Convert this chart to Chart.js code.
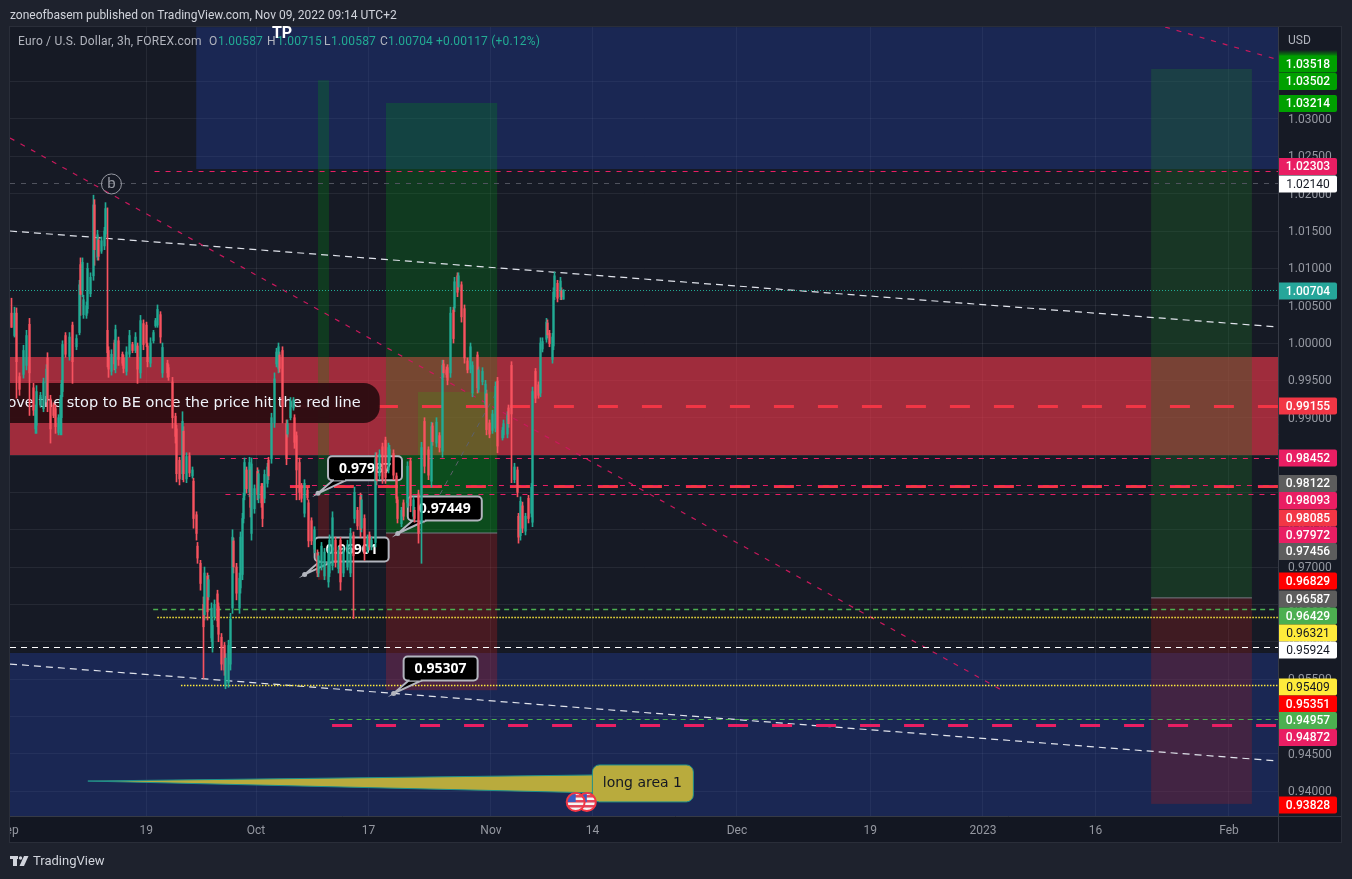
<!DOCTYPE html>
<html>
<head>
<meta charset="utf-8">
<title>EURUSD</title>
<script src="https://cdn.jsdelivr.net/npm/chart.js@4/dist/chart.umd.min.js"></script>
<style>
  html, body { margin: 0; padding: 0; background: #1e222d; overflow: hidden; }
  canvas { display: block; }
</style>
</head>
<body>
<canvas id="chart" width="1352" height="879"></canvas>
<script>
// Axis ticks
const timeBars = [-1, 98, 177, 258, 346, 419, 523, 619, 700, 781, 877];
const timeLabels = ['Sep', '19', 'Oct', '17', 'Nov', '14', 'Dec', '19', '2023', '16', 'Feb'];
const priceTicks = [0.94, 0.945, 0.95, 0.955, 0.96, 0.965, 0.97, 0.975, 0.98, 0.985, 0.99, 0.995, 1,
  1.005, 1.01, 1.015, 1.02, 1.025, 1.03, 1.035];

// Candles (3h bars)
const candleBar = [
  1,3,5,7,10,12,14,17,18,19,
  22,24,26,27,29,31,33,35,36,37,
  38,40,43,45,48,50,51,52,53,55,
  56,58,60,61,63,64,66,68,69,70,
  71,73,75,76,78,81,82,84,86,88,
  90,92,94,96,98,99,101,103,105,106,
  108,110,113,114,117,119,120,122,124,125,
  127,129,131,132,134,135,137,139,140,142,
  143,145,146,147,149,150,152,154,155,157,
  159,160,161,163,165,166,167,168,169,170,
  172,173,174,176,178,179,181,182,183,185,
  186,188,190,192,193,194,196,199,200,202,
  204,205,206,208,210,212,214,215,217,219,
  221,222,224,226,229,230,232,234,236,238,
  240,243,245,247,248,250,252,253,255,257,
  259,260,263,264,266,268,270,272,273,276,
  278,279,282,283,286,288,290,291,294,296,
  298,301,303,304,307,309,311,312,314,315,
  317,319,320,322,323,325,327,329,331,333,
  336,337,340,342,343,345,347,349,351,354,
  355,358,359,361,363,365,366,367,369,371,
  373,375,376,378,380,382,383,386,387,388,
  390,391,392,394,396,397,398];
const candleHigh = [
  1.0060,1.0048,1.0047,.9960,.9997,1.0017,1.0033,.9946,.9917,.9943,
  .9934,.9953,.9971,.9987,.9930,.9920,.9917,.9904,.9930,.9950,
  1.0003,1.0014,1.0014,1.0028,1.0011,1.0084,1.0114,1.0114,1.0064,1.0055,
  1.0107,1.0094,1.0198,1.0192,1.0151,1.0142,1.0142,1.0155,1.0188,1.0181,
  .9995,.9991,1.0004,1.0024,1.0008,.9988,.9984,.9995,1.0017,1.0001,
  1.0014,1.0000,1.0037,1.0031,1.0028,1.0000,1.0007,1.0017,1.0033,1.0051,
  1.0042,1.0000,.9977,.9971,.9954,.9906,.9890,.9847,.9908,.9888,
  .9853,.9853,.9834,.9819,.9774,.9733,.9709,.9660,.9700,.9692,
  .9689,.9652,.9629,.9656,.9669,.9652,.9611,.9599,.9584,.9602,
  .9638,.9750,.9739,.9705,.9692,.9747,.9772,.9799,.9846,.9834,
  .9847,.9834,.9846,.9810,.9833,.9830,.9812,.9812,.9830,.9839,
  .9847,.9906,.9960,.9993,1.0000,.9988,.9995,.9897,.9897,.9927,
  .9927,.9904,.9881,.9846,.9812,.9817,.9807,.9790,.9766,.9754,
  .9723,.9720,.9733,.9725,.9725,.9743,.9774,.9740,.9727,.9740,
  .9727,.9736,.9752,.9747,.9807,.9780,.9799,.9796,.9770,.9743,
  .9747,.9740,.9853,.9853,.9857,.9866,.9874,.9866,.9863,.9857,
  .9826,.9794,.9780,.9790,.9841,.9846,.9794,.9780,.9803,.9867,
  .9900,.9861,.9894,.9893,.9900,.9880,.9977,.9977,.9968,.9971,
  1.0048,1.0048,1.0088,1.0094,1.0094,1.0082,1.0051,.9980,1.0000,.9975,
  .9988,.9968,.9967,.9950,.9937,.9897,.9910,.9948,.9954,.9887,
  .9897,.9908,.9917,.9975,.9839,.9834,.9772,.9794,.9787,.9772,
  .9796,.9812,.9941,.9966,.9948,1.0007,1.0007,1.0033,1.0031,1.0017,
  1.0013,1.0074,1.0095,1.0084,1.0088,1.0074,1.00715];
const candleLow = [
  1.0021,1.0008,.9926,.9930,.9953,.9964,.9903,.9903,.9879,.9879,
  .9914,.9908,.9921,.9908,.9866,.9900,.9879,.9877,.9877,.9877,
  .9928,.9981,.9977,.9946,.9991,1.0011,1.0037,1.0062,1.0033,1.0033,
  1.0040,1.0062,1.0084,1.0104,1.0111,1.0111,1.0120,1.0125,1.0142,.9968,
  .9954,.9957,.9964,.9960,.9970,.9970,.9960,.9957,.9981,.9987,
  .9987,.9946,.9953,.9991,.9995,.9968,.9968,1.0000,1.0021,1.0021,
  1.0000,.9954,.9954,.9950,.9886,.9866,.9814,.9810,.9817,.9814,
  .9813,.9821,.9819,.9752,.9736,.9705,.9669,.9551,.9629,.9629,
  .9656,.9600,.9586,.9629,.9620,.9600,.9562,.9555,.9537,.9539,
  .9562,.9638,.9692,.9656,.9638,.9665,.9683,.9759,.9790,.9799,
  .9794,.9767,.9736,.9772,.9790,.9786,.9780,.9754,.9786,.9807,
  .9817,.9839,.9887,.9968,.9960,.9961,.9893,.9837,.9874,.9897,
  .9910,.9859,.9790,.9790,.9787,.9767,.9790,.9727,.9730,.9719,
  .9687,.9687,.9696,.9683,.9673,.9687,.9696,.9700,.9692,.9669,
  .9687,.9696,.9687,.9631,.9759,.9750,.9740,.9747,.9709,.9719,
  .9723,.9723,.9727,.9810,.9817,.9812,.9812,.9826,.9839,.9817,
  .9786,.9759,.9754,.9763,.9780,.9774,.9763,.9760,.9732,.9705,
  .9826,.9817,.9807,.9863,.9861,.9854,.9847,.9954,.9954,.9944,
  .9954,1.0000,1.0042,1.0062,1.0071,1.0028,.9973,.9960,.9960,.9928,
  .9933,.9934,.9944,.9914,.9877,.9873,.9879,.9881,.9853,.9870,
  .9873,.9873,.9887,.9813,.9813,.9794,.9732,.9736,.9746,.9743,
  .9759,.9767,.9754,.9920,.9926,.9928,.9988,1.0001,1.0007,.9995,
  .9973,.9991,1.0058,1.0055,1.0058,1.0058,1.00587];
const candleOpen = [
  1.0040,1.0010,1.0040,.9955,.9958,.9970,1.0025,.9940,.9885,.9890,
  .9917,.9912,.9925,.9980,.9925,.9917,.9912,.9880,.9885,.9900,
  .9935,1.0010,.9982,1.0024,.9995,1.0014,1.0105,1.0070,1.0038,1.0037,
  1.0046,1.0066,1.0090,1.0185,1.0115,1.0138,1.0123,1.0130,1.0146,1.0017,
  .9990,.9962,1.0000,.9966,1.0003,.9985,.9980,.9962,.9985,.9998,
  .9990,.9996,.9960,1.0026,1.0024,.9996,.9973,1.0003,1.0023,1.0024,
  1.0038,.9960,.9973,.9967,.9948,.9902,.9885,.9843,.9825,.9882,
  .9818,.9849,.9822,.9815,.9770,.9728,.9705,.9650,.9636,.9688,
  .9660,.9605,.9592,.9633,.9664,.9647,.9606,.9595,.9542,.9545,
  .9570,.9645,.9735,.9700,.9645,.9672,.9690,.9765,.9796,.9830,
  .9800,.9830,.9745,.9778,.9828,.9792,.9808,.9808,.9792,.9812,
  .9843,.9845,.9893,.9972,.9966,.9984,.9990,.9892,.9878,.9900,
  .9913,.9900,.9876,.9840,.9808,.9772,.9803,.9786,.9762,.9724,
  .9719,.9692,.9700,.9688,.9680,.9692,.9702,.9736,.9698,.9736,
  .9692,.9700,.9692,.9742,.9765,.9776,.9794,.9752,.9765,.9723,
  .9743,.9727,.9733,.9848,.9822,.9861,.9870,.9830,.9843,.9852,
  .9822,.9790,.9758,.9786,.9786,.9842,.9768,.9776,.9798,.9760,
  .9895,.9857,.9815,.9889,.9866,.9876,.9855,.9972,.9964,.9967,
  .9960,1.0044,1.0047,1.0090,1.0075,1.0078,1.0046,.9976,.9965,.9933,
  .9984,.9938,.9948,.9918,.9932,.9893,.9883,.9886,.9949,.9873,
  .9877,.9878,.9913,.9970,.9817,.9830,.9768,.9742,.9782,.9748,
  .9792,.9772,.9760,.9962,.9944,.9933,.9992,1.0005,1.0027,1.0013,
  .9978,.9996,1.0062,1.0080,1.0062,1.0070,1.00587];
const candleClose = [
  1.0021,1.0040,.9975,.9938,.9990,1.0010,.9960,.9910,.9910,.9935,
  .9930,.9948,.9965,.9925,.9885,.9903,.9888,.9900,.9925,.9945,
  .9998,.9985,1.0008,.9975,1.0006,1.0078,1.0065,1.0108,1.0058,1.0050,
  1.0100,1.0088,1.0185,1.0125,1.0145,1.0116,1.0137,1.0150,1.0180,.9987,
  .9965,.9985,.9972,1.0018,.9978,.9973,.9966,.9988,1.0010,.9990,
  1.0008,.9965,1.0030,.9998,1.0000,.9975,1.0000,1.0014,1.0030,1.0045,
  1.0008,.9994,.9960,.9955,.9900,.9875,.9825,.9818,.9895,.9825,
  .9848,.9826,.9830,.9765,.9745,.9712,.9678,.9620,.9692,.9640,
  .9683,.9645,.9622,.9650,.9628,.9610,.9570,.9562,.9578,.9595,
  .9630,.9740,.9700,.9665,.9685,.9740,.9765,.9792,.9840,.9805,
  .9840,.9780,.9838,.9805,.9797,.9825,.9786,.9765,.9824,.9834,
  .9822,.9900,.9952,.9988,.9995,.9966,.9915,.9845,.9892,.9922,
  .9924,.9867,.9830,.9800,.9792,.9812,.9793,.9735,.9735,.9750,
  .9692,.9715,.9728,.9720,.9718,.9736,.9766,.9706,.9722,.9680,
  .9722,.9730,.9745,.9715,.9800,.9755,.9750,.9790,.9718,.9738,
  .9727,.9736,.9845,.9816,.9851,.9818,.9820,.9860,.9858,.9823,
  .9792,.9765,.9776,.9768,.9835,.9782,.9790,.9765,.9745,.9860,
  .9835,.9823,.9888,.9868,.9894,.9860,.9970,.9960,.9958,.9950,
  1.0040,1.0006,1.0082,1.0068,1.0090,1.0035,.9980,.9964,.9995,.9970,
  .9940,.9964,.9962,.9945,.9884,.9878,.9905,.9942,.9862,.9883,
  .9892,.9903,.9892,.9905,.9834,.9800,.9740,.9788,.9752,.9768,
  .9765,.9807,.9935,.9926,.9930,1.0000,1.0002,1.0028,1.0011,.9999,
  1.0008,1.0068,1.0090,1.0060,1.0083,1.0062,1.00704];

// Horizontal levels drawn on the chart
const levelPrice = [1.02303, 1.0214, 1.00704, 0.99155, 0.98452, 0.98093, 0.98085, 0.97972, 0.96429, 0.96321, 0.95924, 0.95409, 0.94957, 0.94872];
const levelStartBar = [104, 0, 0, 201.4, 151, 201.4, 201.4, 155, 103, 106, 0, 123, 230, 231.7];
const levelStyle = ['pink', 'grey', 'last', 'thickRed', 'pink', 'pink', 'thickRed', 'pink', 'greenBold', 'yellow', 'white', 'yellow', 'green', 'thickPink'];

// Sloped trend lines and position entry lines: bar, price at both ends
const trendStartBar = [0, 831, 0, 0, 294, 821, 270.5];
const trendEndBar = [716, 913, 913, 913, 350, 893.5, 350.5];
const trendStartPrice = [1.02746, 1.04232, 1.0150, 0.95701, 0.97456, 0.96587, 0.97456];
const trendEndPrice = [0.95326, 1.0379, 1.00214, 0.94402, 0.99344, 0.96587, 0.97456];
const trendStyle = ['trendPink', 'trendPink', 'trendWhite', 'trendWhite', 'trendGrey', 'entry', 'entry'];

// Shaded zones, painted in this order
const zoneStartBar = [134, 0, 0, 221.6, 221.6, 270.5, 270.5, 270.5, 293.5, 821, 821];
const zoneEndBar = [913, 913, 913, 229.5, 229.5, 350.5, 350.5, 350.5, 350.5, 893.5, 893.5];
const zoneTop = [1.0423, 0.95849, 0.99813, 1.03518, 0.97972, 1.03214, 0.98500, 0.97456, 0.99344, 1.0367, 0.96587];
const zoneBottom = [1.0233, 0.9366, 0.98500, 0.97972, 0.96829, 0.97456, 0.97456, 0.95351, 0.98500, 0.96587, 0.93828];
const zoneColor = ['rgba(33,66,170,.35)', 'rgba(33,66,170,.35)', 'rgba(233,54,72,.65)',
  'rgba(0,150,20,.26)', 'rgba(200,30,30,.28)', 'rgba(0,150,20,.26)', 'rgba(0,150,20,.2)', 'rgba(200,30,30,.28)',
  'rgba(60,150,20,.25)', 'rgba(30,120,40,.3)', 'rgba(160,30,30,.3)'];

// Price callouts
const calloutBar = [221.6, 212, 279, 276];
const calloutPrice = [0.97987, 0.96901, 0.97449, 0.95307];

// Tags on the price axis
const tagPrice = [1.03518, 1.03502, 1.03214, 1.02303, 1.0214, 1.00704, 0.99155, 0.98452, 0.98122, 0.98093, 0.98085, 0.97972,
  0.97456, 0.96829, 0.96587, 0.96429, 0.96321, 0.95924, 0.95409, 0.95351, 0.94957, 0.94872, 0.93828];
const tagColor = ['#00a000', '#00a000', '#00a000', '#e91e63', '#ffffff', '#26a69a', '#f23645', '#e91e63', '#5d5d5d', '#e91e63', '#f23645', '#e91e63',
  '#5d5d5d', '#ff0000', '#5d5d5d', '#4caf50', '#ffeb3b', '#ffffff', '#ffeb3b', '#ff0000', '#4caf50', '#e91e63', '#ff0000'];
// TradingView stacks tags that would overlap, so these are screen rows and not prices
const tagRow = [64, 81.5, 103.5, 166.5, 184, 291, 406, 458, 483.5, 500.5, 518, 535, 551.5, 581, 599, 616, 633, 650, 687, 704, 720.5, 737.5, 805];

const UP = '#22ab94';
const DOWN = '#f7525f';
const FONT = 'Roboto, sans-serif';

const lineStyles = {
  pink: { color: '#e91e63', width: 1, dash: [5, 6] },
  grey: { color: '#50535e', width: 1, dash: [5, 6] },
  last: { color: '#22ab94', width: 1, dash: [1, 2] },
  thickRed: { color: '#f23645', width: 3, dash: [20, 24] },
  thickPink: { color: '#e91e63', width: 3, dash: [20, 24] },
  green: { color: '#4caf50', width: 1, dash: [5, 4] },
  greenBold: { color: '#4caf50', width: 1.6, dash: [5, 4] },
  yellow: { color: '#ffeb3b', width: 1.6, dash: [1.5, 1.5] },
  white: { color: '#ffffff', width: 1, dash: [6, 5] },
  trendPink: { color: '#c9185c', width: 1.2, dash: [5, 7] },
  trendWhite: { color: '#e0e3eb', width: 1.2, dash: [7, 5] },
  trendGrey: { color: '#5d606b', width: 1, dash: [5, 6] },
  entry: { color: '#787b86', width: 1, dash: [] }
};

function lineDataset(points, styleName, flat) {
  const s = lineStyles[styleName];
  return {
    type: 'line', data: points, order: 10, flat: flat,
    borderColor: s.color, borderWidth: s.width, borderDash: s.dash,
    pointRadius: 0, tension: 0, fill: false
  };
}

const levelSets = levelPrice.map((p, i) => lineDataset([{ x: levelStartBar[i], y: p }, { x: 913, y: p }], levelStyle[i], true));
const trendSets = trendStartBar.map((b, i) => lineDataset([{ x: b, y: trendStartPrice[i] }, { x: trendEndBar[i], y: trendEndPrice[i] }], trendStyle[i], false));
const candleColors = candleBar.map((_, i) => candleClose[i] >= candleOpen[i] ? UP : DOWN);

function roundBox(ctx, x, y, w, h, r) {
  ctx.beginPath();
  ctx.roundRect(x, y, w, h, r);
}

function drawZones(chart) {
  const { ctx, chartArea: a, scales: { x, y } } = chart;
  ctx.save();
  ctx.beginPath();
  ctx.rect(a.left, a.top, a.width, a.height);
  ctx.clip();
  zoneStartBar.forEach((b, i) => {
    const x1 = x.getPixelForValue(b), x2 = x.getPixelForValue(zoneEndBar[i]);
    const y1 = y.getPixelForValue(zoneTop[i]), y2 = y.getPixelForValue(zoneBottom[i]);
    ctx.fillStyle = zoneColor[i];
    ctx.fillRect(x1, y1, x2 - x1, y2 - y1);
  });
  ctx.restore();
}

// Drawings that sit under the candles
function drawNotes(chart) {
  const { ctx, chartArea: a, scales: { x, y } } = chart;
  ctx.save();
  ctx.beginPath();
  ctx.rect(a.left, a.top, a.width, a.height);
  ctx.clip();

  // the note that runs off the left edge
  const noteRight = x.getPixelForValue(266), noteMid = y.getPixelForValue(0.99196);
  ctx.fillStyle = 'rgba(42,12,16,.94)';
  roundBox(ctx, a.left - 40, noteMid - 20, noteRight - a.left + 40, 40, 16);
  ctx.fill();
  ctx.fillStyle = '#f0f3fa';
  ctx.font = '14.5px "DejaVu Sans", sans-serif';
  ctx.textAlign = 'right';
  ctx.textBaseline = 'middle';
  ctx.fillText('Move the stop to BE once the price hit the red line', noteRight - 19, noteMid);

  // price callouts
  calloutBar.forEach((b, i) => {
    const ax = x.getPixelForValue(b), ay = y.getPixelForValue(calloutPrice[i]);
    const bx = ax + 10, by = ay - 37;
    ctx.fillStyle = '#000';
    ctx.strokeStyle = '#b2b5be';
    ctx.lineWidth = 2;
    ctx.beginPath();
    ctx.moveTo(ax, ay);
    ctx.lineTo(bx + 5, by + 24);
    ctx.lineTo(bx + 18, by + 24);
    ctx.closePath();
    ctx.fill();
    ctx.stroke();
    roundBox(ctx, bx, by, 74, 24, 4);
    ctx.fill();
    ctx.stroke();
    ctx.fillStyle = '#000';
    ctx.fillRect(bx + 6, by + 21, 11, 3);
    ctx.fillStyle = '#b2b5be';
    ctx.beginPath();
    ctx.arc(ax, ay, 2.5, 0, Math.PI * 2);
    ctx.fill();
    ctx.fillStyle = '#fff';
    ctx.font = 'bold 14px "Open Sans", sans-serif';
    ctx.textAlign = 'center';
    ctx.textBaseline = 'middle';
    ctx.fillText(calloutPrice[i].toFixed(5), bx + 37, by + 12.5);
  });

  // wave mark
  const bx = x.getPixelForValue(73), by = y.getPixelForValue(1.0213);
  ctx.strokeStyle = '#9598a1';
  ctx.lineWidth = 1;
  ctx.beginPath();
  ctx.arc(bx, by, 10, 0, Math.PI * 2);
  ctx.stroke();
  ctx.fillStyle = '#9598a1';
  ctx.font = '15px ' + FONT;
  ctx.textAlign = 'center';
  ctx.fillText('b', bx, by);

  // long area bubble
  const tipX = x.getPixelForValue(56), tipY = y.getPixelForValue(0.94134);
  const boxX = x.getPixelForValue(419), boxY = y.getPixelForValue(0.9435);
  ctx.fillStyle = '#b9ab3d';
  ctx.strokeStyle = '#1f8f8a';
  ctx.lineWidth = 1;
  ctx.beginPath();
  ctx.moveTo(tipX, tipY);
  ctx.lineTo(boxX + 4, boxY + 10);
  ctx.lineTo(boxX + 4, boxY + 28);
  ctx.closePath();
  ctx.fill();
  ctx.stroke();
  roundBox(ctx, boxX, boxY, 101, 37, 7);
  ctx.fill();
  ctx.stroke();
  ctx.fillStyle = '#131722';
  ctx.font = '14px "DejaVu Sans", sans-serif';
  ctx.fillText('long area 1', boxX + 50, boxY + 18);

  // economic event flags
  [415, 407].forEach(b => drawFlag(ctx, x.getPixelForValue(b), y.getPixelForValue(0.93853)));
  ctx.restore();
}

function drawFlag(ctx, cx, cy) {
  ctx.save();
  ctx.beginPath();
  ctx.arc(cx, cy, 9, 0, Math.PI * 2);
  ctx.clip();
  ctx.fillStyle = '#f5f5f5';
  ctx.fillRect(cx - 9, cy - 9, 18, 18);
  ctx.fillStyle = '#e0435a';
  for (let k = -7; k < 9; k += 5) ctx.fillRect(cx - 9, cy + k, 18, 2.5);
  ctx.fillStyle = '#3c5cc0';
  ctx.fillRect(cx - 9, cy - 9, 9, 9);
  ctx.restore();
  ctx.strokeStyle = '#f23645';
  ctx.lineWidth = 2;
  ctx.beginPath();
  ctx.arc(cx, cy, 9, 0, Math.PI * 2);
  ctx.stroke();
}

function drawTags(ctx) {
  // clipped tag above the first one
  const fade = ctx.createLinearGradient(0, 50, 0, 57);
  fade.addColorStop(0, 'rgba(0,160,0,0)');
  fade.addColorStop(1, 'rgba(0,160,0,1)');
  ctx.fillStyle = fade;
  ctx.fillRect(1279, 50, 58, 7);

  tagPrice.forEach((p, i) => {
    const dark = ['#ffffff', '#ffeb3b'].includes(tagColor[i]);
    ctx.fillStyle = tagColor[i];
    roundBox(ctx, 1279, tagRow[i] - 8.5, 58, 17, [0, 2, 2, 0]);
    ctx.fill();
    ctx.fillStyle = dark ? '#131722' : '#ffffff';
    ctx.font = (dark ? '' : '500 ') + '12px ' + FONT;
    ctx.textAlign = 'center';
    ctx.textBaseline = 'middle';
    ctx.fillText(p.toFixed(5), 1308, tagRow[i] + 0.5);
  });

  ctx.fillStyle = '#b2b5be';
  ctx.font = '12px ' + FONT;
  ctx.textAlign = 'left';
  ctx.fillText('USD', 1288, 41);
}

function drawHeader(ctx) {
  ctx.textAlign = 'left';
  ctx.textBaseline = 'middle';
  ctx.font = '12px ' + FONT;
  ctx.fillStyle = '#d1d4dc';
  ctx.fillText('zoneofbasem published on TradingView.com, Nov 09, 2022 09:14 UTC+2', 10, 15.5);

  // legend row
  ctx.letterSpacing = '0.2px';
  const parts = [['Euro / U.S. Dollar, 3h, FOREX.com', 18, '#b2b5be'], ['O', 209, '#b2b5be'], ['1.00587', 218, UP], ['H', 267, '#b2b5be'],
    ['1.00715', 277, UP], ['L', 324, '#b2b5be'], ['1.00587', 331, UP], ['C', 380, '#b2b5be'], ['1.00704', 388, UP], ['+0.00117 (+0.12%)', 436, UP]];
  parts.forEach(([text, left, color]) => {
    ctx.fillStyle = color;
    ctx.fillText(text, left, 42);
  });
  ctx.letterSpacing = '0px';
  ctx.fillStyle = '#fff';
  ctx.font = 'bold 16px ' + FONT;
  ctx.textAlign = 'center';
  ctx.fillText('TP', 282, 34);

  // footer logo
  ctx.fillStyle = '#d1d4dc';
  ctx.fillRect(10, 856, 8, 3);
  ctx.fillRect(13, 856, 4, 10);
  ctx.beginPath();
  ctx.arc(20.5, 858, 1.7, 0, Math.PI * 2);
  ctx.fill();
  ctx.beginPath();
  ctx.moveTo(24, 856);
  ctx.lineTo(28.5, 856);
  ctx.lineTo(24, 866);
  ctx.lineTo(19.5, 866);
  ctx.closePath();
  ctx.fill();
  ctx.font = '13px ' + FONT;
  ctx.textAlign = 'left';
  ctx.fillText('TradingView', 33, 861.5);
}

const chrome = {
  id: 'chrome',
  // keep thin candles on whole pixels so they stay crisp
  afterDatasetsUpdate(chart) {
    chart.getSortedVisibleDatasetMetas().forEach(meta => {
      if (meta.type === 'bar') meta.data.forEach(el => { el.x = Math.floor(el.x) + 0.5; });
    });
  },
  beforeDraw(chart) {
    const { ctx, chartArea: a } = chart;
    ctx.save();
    ctx.fillStyle = '#1e222d';
    ctx.fillRect(0, 0, chart.width, chart.height);
    ctx.fillStyle = '#161a25';
    ctx.fillRect(a.left, a.top, 1341 - a.left, a.height);
    ctx.fillStyle = '#131722';
    ctx.fillRect(a.left, a.bottom, 1341 - a.left, 26);
    ctx.restore();
  },
  beforeDatasetsDraw: chart => drawZones(chart),
  beforeDatasetDraw(chart, args) {
    const { ctx } = chart;
    if (args.meta.order === 2) drawNotes(chart);
    // flat levels sit on a pixel row
    if (chart.data.datasets[args.index].flat) {
      const py = args.meta.data[0].y;
      ctx.save();
      ctx.translate(0, Math.floor(py) + 0.5 - py);
    }
  },
  afterDatasetDraw(chart, args) {
    if (chart.data.datasets[args.index].flat) chart.ctx.restore();
  },
  afterDraw(chart) {
    const { ctx } = chart;
    ctx.save();
    // left strip hides the clipped start of the time axis
    ctx.fillStyle = '#1e222d';
    ctx.fillRect(0, 0, 10, chart.height);
    ctx.strokeStyle = '#2a2e39';
    ctx.lineWidth = 1;
    ctx.strokeRect(9.5, 26.5, 1332, 816);
    ctx.beginPath();
    ctx.moveTo(10, 816.5);
    ctx.lineTo(1341, 816.5);
    ctx.moveTo(1278.5, 27);
    ctx.lineTo(1278.5, 842);
    ctx.strokeStyle = '#363a45';
    ctx.stroke();
    drawTags(ctx);
    drawHeader(ctx);
    ctx.restore();
  }
};

new Chart(document.getElementById('chart'), {
  type: 'bar',
  data: {
    datasets: [
      ...levelSets,
      ...trendSets,
      {
        data: candleBar.map((b, i) => ({ x: b, y: [candleLow[i], candleHigh[i]] })),
        order: 2, barThickness: 1, grouped: false, backgroundColor: candleColors, borderWidth: 0
      },
      {
        data: candleBar.map((b, i) => ({ x: b, y: [candleOpen[i], candleClose[i]] })),
        order: 1, barThickness: 1.5, grouped: false, backgroundColor: candleColors, borderWidth: 0
      }
    ]
  },
  options: {
    responsive: false,
    devicePixelRatio: 1,
    animation: false,
    layout: { padding: { left: 10, top: 27, right: 11, bottom: 37 } },
    plugins: { legend: { display: false }, tooltip: { enabled: false } },
    scales: {
      x: {
        type: 'linear', min: 0, max: 913, offset: false,
        grid: { color: 'rgba(240,243,250,.07)', offset: false, drawTicks: false },
        border: { display: false },
        afterBuildTicks: s => { s.ticks = timeBars.map(v => ({ value: v })); },
        afterFit: s => { s.height = 26; s.paddingLeft = 0; s.paddingRight = 0; },
        ticks: {
          color: '#9598a1', font: { family: FONT, size: 12 }, padding: 8,
          autoSkip: false, maxRotation: 0,
          callback: v => timeLabels[timeBars.indexOf(v)]
        }
      },
      y: {
        position: 'right', min: 0.93666, max: 1.04232,
        grid: { color: 'rgba(240,243,250,.07)', drawTicks: false },
        border: { display: false },
        afterBuildTicks: s => { s.ticks = priceTicks.map(v => ({ value: v })); },
        afterFit: s => { s.width = 62; s.paddingTop = 0; s.paddingBottom = 0; },
        ticks: {
          color: '#9598a1', font: { family: FONT, size: 12 }, padding: 9, labelOffset: 1,
          autoSkip: false, callback: v => v.toFixed(5)
        }
      }
    }
  },
  plugins: [chrome]
});
</script>
</body>
</html>
